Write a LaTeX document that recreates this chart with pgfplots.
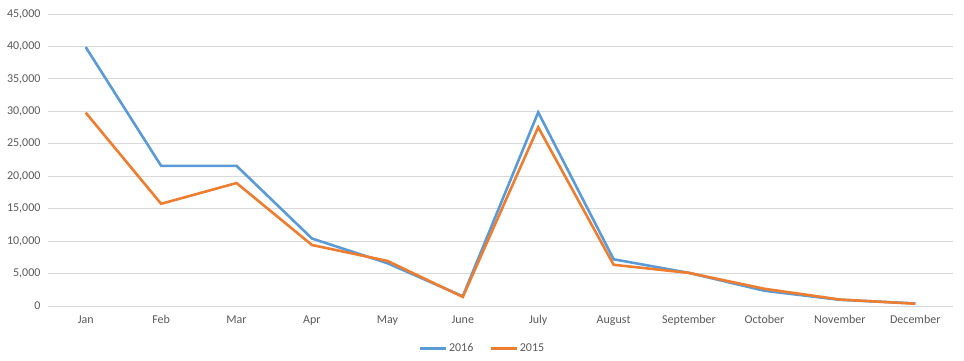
\documentclass[border=0pt]{standalone}
\usepackage{pgfplots}
\pgfplotsset{compat=1.18}
\usepackage{fontspec}
\setmainfont{Carlito}
\definecolor{s16}{RGB}{91,155,213}
\definecolor{s15}{RGB}{237,125,49}
\definecolor{txt}{RGB}{89,89,89}
\definecolor{grd}{RGB}{217,217,217}
\begin{document}
\begin{tikzpicture}[x=1pt,y=1pt]
\useasboundingbox (0,0) rectangle (964,361);
\begin{axis}[
  at={(48pt,55pt)}, anchor=south west,
  scale only axis, width=905pt, height=292pt,
  xmin=-0.5, xmax=11.5, ymin=0, ymax=45000,
  xtick={0,...,11},
  xticklabels={Jan,Feb,Mar,Apr,May,June,July,August,September,October,November,December},
  ytick={0,5000,...,45000},
  scaled y ticks=false,
  /pgf/number format/assume math mode=true,
  yticklabel style={/pgf/number format/fixed,/pgf/number format/1000 sep={,}},
  ymajorgrids, grid style={grd, line width=0.8pt},
  axis line style={draw=none},
  major tick length=0pt,
  tick label style={font=\fontsize{12}{14}\selectfont, text=txt},
  xticklabel style={yshift=-6pt},
  yticklabel style={xshift=-4pt},
  legend style={at={(0.48,-0.145)}, anchor=center, draw=none, legend columns=2,
    font=\fontsize{12}{14}\selectfont, text=txt,
    /tikz/every even column/.append style={column sep=14pt}},
  legend image code/.code={\draw[#1, line width=2.5pt] (0pt,0pt) -- (26pt,0pt);},
]
\addplot[s16, line width=2.6pt, mark=none] coordinates {
(0,39900) (1,21600) (2,21600) (3,10400) (4,6600) (5,1500) (6,29850) (7,7200) (8,5100) (9,2350) (10,950) (11,400)};
\addlegendentry{2016}
\addplot[s15, line width=2.6pt, mark=none] coordinates {
(0,29800) (1,15750) (2,18950) (3,9400) (4,6950) (5,1400) (6,27550) (7,6350) (8,5100) (9,2650) (10,1000) (11,350)};
\addlegendentry{2015}
\end{axis}
\end{tikzpicture}
\end{document}
